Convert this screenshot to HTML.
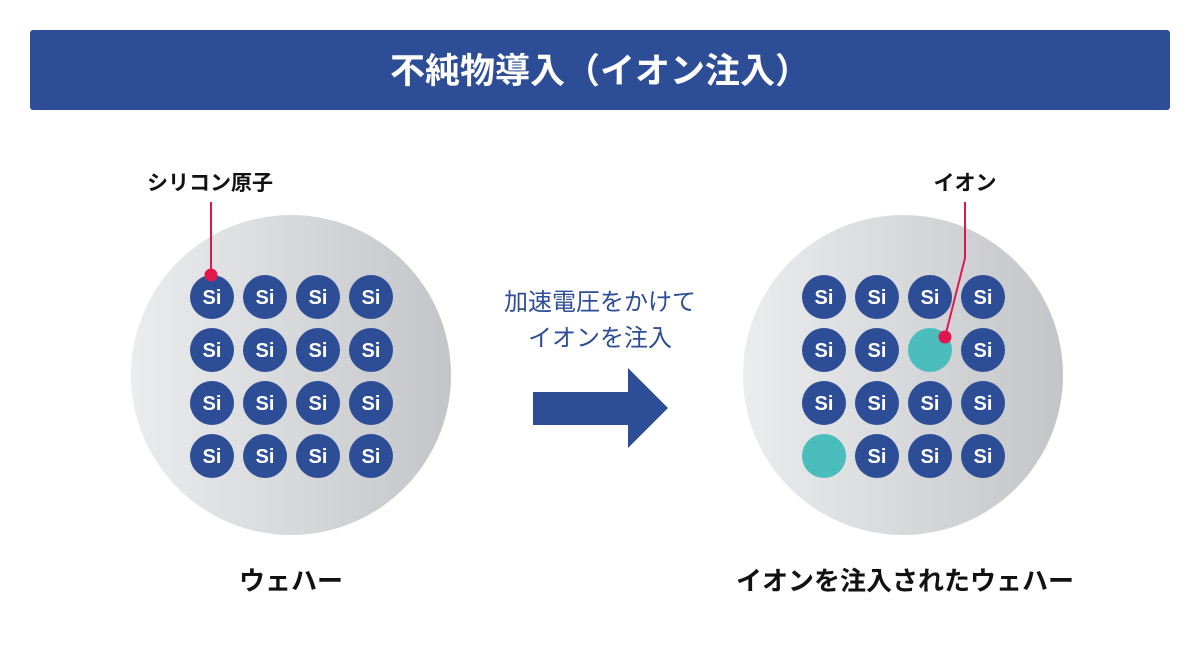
<!DOCTYPE html>
<html><head><meta charset="utf-8"><style>
body{margin:0;background:#fff;width:1200px;height:650px;overflow:hidden}
</style></head><body>
<svg width="1200" height="650" viewBox="0 0 1200 650" xmlns="http://www.w3.org/2000/svg" font-family="Liberation Sans, Noto Sans CJK JP, sans-serif">
<defs>
<linearGradient id="g" x1="0" x2="1" y1="0" y2="0">
<stop offset="0" stop-color="#ebecee"/><stop offset="1" stop-color="#c4c5c8"/>
</linearGradient>
</defs>
<rect x="30" y="30" width="1140" height="80" rx="3" fill="#2d4e96"/>
<text x="600" y="83" text-anchor="middle" font-size="35" font-weight="bold" fill="#fff">不純物導入（イオン注入）</text>

<circle cx="291" cy="375" r="160" fill="url(#g)"/>
<circle cx="903" cy="375" r="160" fill="url(#g)"/>

<g fill="#2d4e96">
<circle cx="212" cy="297" r="22"/><circle cx="265" cy="297" r="22"/><circle cx="318" cy="297" r="22"/><circle cx="371" cy="297" r="22"/>
<circle cx="212" cy="350" r="22"/><circle cx="265" cy="350" r="22"/><circle cx="318" cy="350" r="22"/><circle cx="371" cy="350" r="22"/>
<circle cx="212" cy="403" r="22"/><circle cx="265" cy="403" r="22"/><circle cx="318" cy="403" r="22"/><circle cx="371" cy="403" r="22"/>
<circle cx="212" cy="456" r="22"/><circle cx="265" cy="456" r="22"/><circle cx="318" cy="456" r="22"/><circle cx="371" cy="456" r="22"/>
<circle cx="824" cy="297" r="22"/><circle cx="877" cy="297" r="22"/><circle cx="930" cy="297" r="22"/><circle cx="983" cy="297" r="22"/>
<circle cx="824" cy="350" r="22"/><circle cx="877" cy="350" r="22"/><circle cx="983" cy="350" r="22"/>
<circle cx="824" cy="403" r="22"/><circle cx="877" cy="403" r="22"/><circle cx="930" cy="403" r="22"/><circle cx="983" cy="403" r="22"/>
<circle cx="877" cy="456" r="22"/><circle cx="930" cy="456" r="22"/><circle cx="983" cy="456" r="22"/>
</g>
<g fill="#4bbdbd"><circle cx="930" cy="350" r="22"/><circle cx="824" cy="456" r="22"/></g>

<g fill="#fff" font-size="20" font-weight="bold" text-anchor="middle">
<text x="212" y="304">Si</text><text x="265" y="304">Si</text><text x="318" y="304">Si</text><text x="371" y="304">Si</text>
<text x="212" y="357">Si</text><text x="265" y="357">Si</text><text x="318" y="357">Si</text><text x="371" y="357">Si</text>
<text x="212" y="410">Si</text><text x="265" y="410">Si</text><text x="318" y="410">Si</text><text x="371" y="410">Si</text>
<text x="212" y="463">Si</text><text x="265" y="463">Si</text><text x="318" y="463">Si</text><text x="371" y="463">Si</text>
<text x="824" y="304">Si</text><text x="877" y="304">Si</text><text x="930" y="304">Si</text><text x="983" y="304">Si</text>
<text x="824" y="357">Si</text><text x="877" y="357">Si</text><text x="983" y="357">Si</text>
<text x="824" y="410">Si</text><text x="877" y="410">Si</text><text x="930" y="410">Si</text><text x="983" y="410">Si</text>
<text x="877" y="463">Si</text><text x="930" y="463">Si</text><text x="983" y="463">Si</text>
</g>

<line x1="211" y1="202" x2="211" y2="275" stroke="#e0174f" stroke-width="2"/>
<circle cx="211" cy="275" r="6.5" fill="#e0174f"/>
<polyline points="965,202 965,258 945,337" fill="none" stroke="#e0174f" stroke-width="2"/>
<circle cx="945" cy="337" r="6.5" fill="#e0174f"/>

<text x="210" y="190" text-anchor="middle" font-size="21" font-weight="bold" fill="#111">シリコン原子</text>
<text x="965" y="190" text-anchor="middle" font-size="21" font-weight="bold" fill="#111">イオン</text>

<text x="600" y="310" text-anchor="middle" font-size="24" fill="#2d4e96">加速電圧をかけて</text>
<text x="600" y="346" text-anchor="middle" font-size="24" fill="#2d4e96">イオンを注入</text>
<polygon points="533,392 628,392 628,368 668,408 628,448 628,425 533,425" fill="#2d4e96"/>

<text x="291" y="590" text-anchor="middle" font-size="26" font-weight="bold" fill="#111">ウェハー</text>
<text x="905" y="590" text-anchor="middle" font-size="26" font-weight="bold" fill="#111">イオンを注入されたウェハー</text>
</svg>
</body></html>
